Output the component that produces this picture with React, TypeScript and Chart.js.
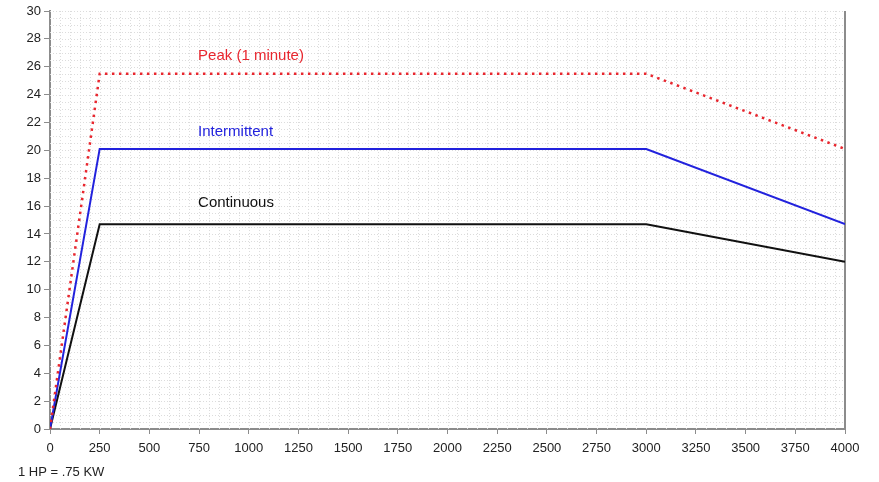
import React, { useEffect, useRef } from "react";
import { Chart, registerables } from "chart.js";

Chart.register(...registerables);

const speedRpm = [0, 250, 3000, 4000];
const peakValues = [0, 25.5, 25.5, 20.1];
const intermittentValues = [0, 20.1, 20.1, 14.7];
const continuousValues = [0, 14.7, 14.7, 12.0];
const seriesLabels = ["Peak (1 minute)", "Intermittent", "Continuous"];
const footnote = "1 HP = .75 KW";

const FONT = "'Liberation Sans', Arial, sans-serif";

const minorGrid = {
  id: "minorGrid",
  beforeDatasetsDraw(chart: any) {
    const { ctx, chartArea, scales } = chart;
    const x = scales.x;
    const y = scales.y;
    ctx.save();
    ctx.strokeStyle = "#dcdcdc";
    ctx.lineWidth = 1;
    ctx.setLineDash([1, 2]);
    for (let v = 50; v < 4000; v += 50) {
      const px = Math.round(x.getPixelForValue(v)) + 0.5;
      ctx.beginPath();
      ctx.moveTo(px, chartArea.top);
      ctx.lineTo(px, chartArea.bottom);
      ctx.stroke();
    }
    for (let v = 0.5; v <= 30; v += 0.5) {
      const py = Math.round(y.getPixelForValue(v)) + 0.5;
      ctx.beginPath();
      ctx.moveTo(chartArea.left, py);
      ctx.lineTo(chartArea.right, py);
      ctx.stroke();
    }
    ctx.setLineDash([]);
    ctx.strokeStyle = "#8c8c8c";
    ctx.lineWidth = 2;
    ctx.beginPath();
    ctx.moveTo(chartArea.right, chartArea.top);
    ctx.lineTo(chartArea.right, chartArea.bottom);
    ctx.stroke();
    ctx.restore();
  },
  afterDraw(chart: any) {
    const { ctx, scales } = chart;
    const x = scales.x;
    const y = scales.y;
    ctx.save();
    ctx.font = `15px ${FONT}`;
    ctx.textBaseline = "middle";
    ctx.textAlign = "left";
    const labels = [
      { t: seriesLabels[0], c: "#e8262e", xv: 745, yv: 26.75 },
      { t: seriesLabels[1], c: "#2222dd", xv: 745, yv: 21.35 },
      { t: seriesLabels[2], c: "#111111", xv: 745, yv: 16.25 },
    ];
    for (const l of labels) {
      ctx.fillStyle = l.c;
      ctx.fillText(l.t, x.getPixelForValue(l.xv), y.getPixelForValue(l.yv));
    }
    ctx.font = `13px ${FONT}`;
    ctx.fillStyle = "#222";
    ctx.fillText(footnote, 18, 472);
    ctx.restore();
  },
};

export default function App() {
  const ref = useRef<HTMLCanvasElement>(null);
  useEffect(() => {
    document.body.style.margin = "0";
    const mk = (vals: number[]) => speedRpm.map((s, i) => ({ x: s, y: vals[i] }));
    const chart = new Chart(ref.current!, {
      type: "line",
      data: {
        datasets: [
          {
            label: seriesLabels[0],
            data: mk(peakValues),
            borderColor: "#e8262e",
            borderWidth: 2.5,
            borderDash: [2.5, 4.5],
            pointRadius: 0,
            tension: 0,
          },
          {
            label: seriesLabels[1],
            data: mk(intermittentValues),
            borderColor: "#2222dd",
            borderWidth: 2,
            pointRadius: 0,
            tension: 0,
          },
          {
            label: seriesLabels[2],
            data: mk(continuousValues),
            borderColor: "#111111",
            borderWidth: 2,
            pointRadius: 0,
            tension: 0,
          },
        ],
      },
      options: {
        animation: false,
        responsive: false,
        layout: { padding: { left: 0, right: 34, top: 11, bottom: 20 } },
        plugins: { legend: { display: false }, tooltip: { enabled: false } },
        scales: {
          x: {
            type: "linear",
            min: 0,
            max: 4000,
            ticks: {
              stepSize: 250,
              color: "#222",
              font: { family: FONT, size: 13 },
              padding: 7,
              maxRotation: 0,
              callback: (v: any) => String(v),
            },
            grid: { drawOnChartArea: false, drawTicks: true, tickLength: 5, color: "#8c8c8c" },
            border: { color: "#8c8c8c", width: 2 },
            afterFit: (s: any) => { s.height = 33; },
          },
          y: {
            min: 0,
            max: 30,
            ticks: {
              stepSize: 2,
              color: "#222",
              font: { family: FONT, size: 13 },
              padding: 3,
              callback: (v: any) => String(v),
            },
            grid: { drawOnChartArea: false, drawTicks: true, tickLength: 6, color: "#8c8c8c" },
            border: { color: "#8c8c8c", width: 2 },
            afterFit: (s: any) => { s.width = 50; },
          },
        },
      },
      plugins: [minorGrid],
    });
    return () => chart.destroy();
  }, []);
  return (
    <div style={{ position: "relative", width: 879, height: 482, background: "#fff" }}>
      <canvas ref={ref} width={879} height={482} />
    </div>
  );
}
